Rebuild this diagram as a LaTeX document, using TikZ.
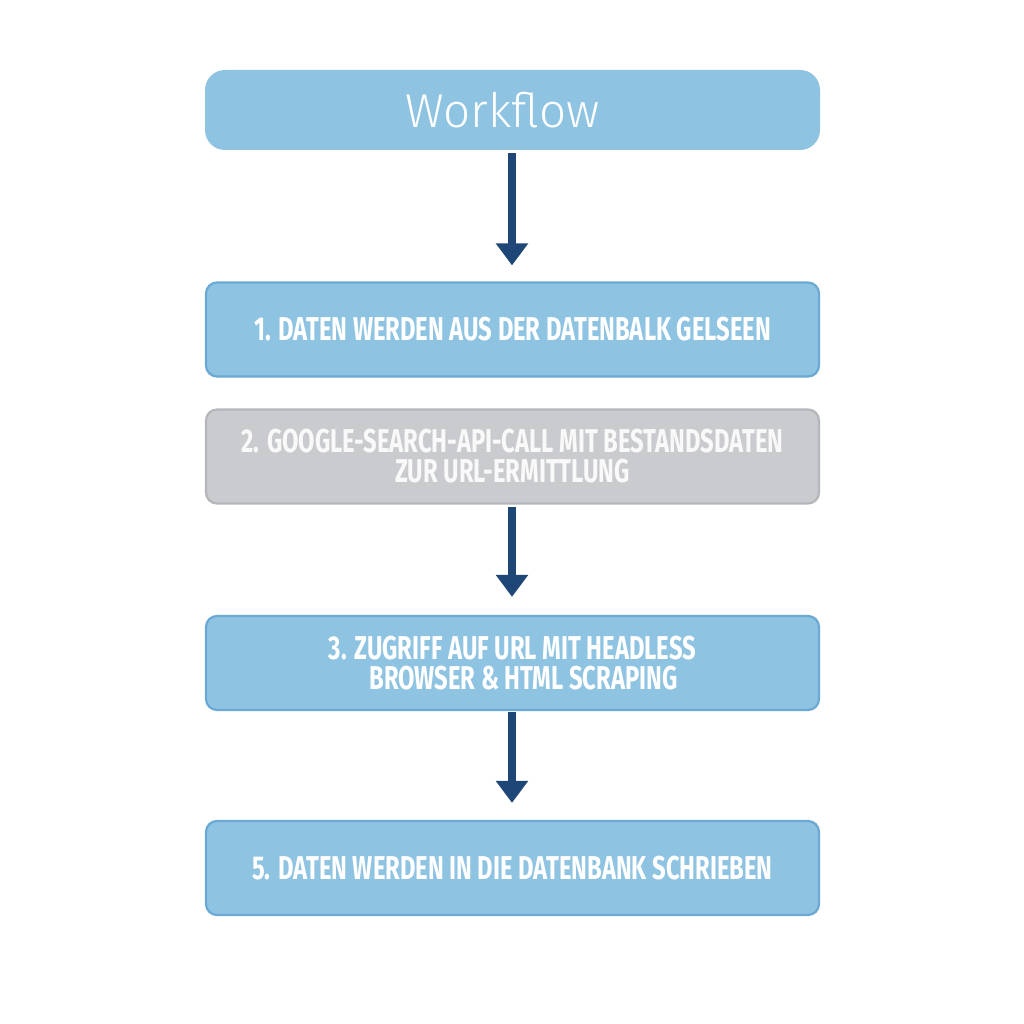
\documentclass[tikz,border=0pt]{standalone}
\usepackage{fontspec}
\usetikzlibrary{arrows.meta}
\newfontfamily\wffont{Fira Sans Light}
\newfontfamily\boxfont[FakeStretch=0.72]{Fira Sans Bold}
\definecolor{boxblue}{HTML}{8EC3E1}
\definecolor{boxedge}{HTML}{69A9D3}
\definecolor{boxgrey}{HTML}{C9CBCE}
\definecolor{greyedge}{HTML}{B4B7BA}
\definecolor{arrowblue}{HTML}{1E4677}
\begin{document}
\begin{tikzpicture}[x=1pt,y=-1pt,
  stepbox/.style={rectangle, rounded corners=11pt, minimum width=613pt, minimum height=94pt,
    fill=boxblue, draw=boxedge, line width=2.2pt, text=white, align=center,
    font=\boxfont\fontsize{33}{30}\selectfont, inner sep=0pt},
  greybox/.style={stepbox, fill=boxgrey, draw=greyedge, text=white!95!gray},
  titlebox/.style={rectangle, rounded corners=20pt, minimum width=615pt, minimum height=80pt,
    fill=boxblue, draw=none, text=white, font=\wffont\fontsize{47.5}{46}\selectfont, inner sep=0pt},
  flow/.style={draw=arrowblue, line width=8pt, -{Triangle[width=31pt,length=22pt]}, arrowblue}
]
\useasboundingbox (0,0) rectangle (1024,1024);
\fill[white] (0,0) rectangle (1024,1024);
\node[titlebox] (w) at (512.5,110) {Workflow\hspace*{20pt}};
\node[stepbox] (b1) at (512.5,329.5) {1. DATEN WERDEN AUS DER DATENBALK GELSEEN};
\node[greybox] (b2) at (512.5,456.5) {2. GOOGLE-SEARCH-API-CALL MIT BESTANDSDATEN\\ZUR URL-ERMITTLUNG};
\node[stepbox] (b3) at (512.5,663) {3. ZUGRIFF AUF URL MIT HEADLESS\\\hspace*{22pt}BROWSER \& HTML SCRAPING};
\node[stepbox] (b5) at (512.5,868) {5. DATEN WERDEN IN DIE DATENBANK SCHRIEBEN};
\draw[flow, shorten <=3pt, shorten >=16pt] (w.south -| 512,0) -- (b1.north -| 512,0);
\draw[flow, shorten <=2pt, shorten >=18pt] (b2.south -| 512,0) -- (b3.north -| 512,0);
\draw[flow, shorten <=1pt, shorten >=17pt] (b3.south -| 512,0) -- (b5.north -| 512,0);
\end{tikzpicture}
\end{document}
